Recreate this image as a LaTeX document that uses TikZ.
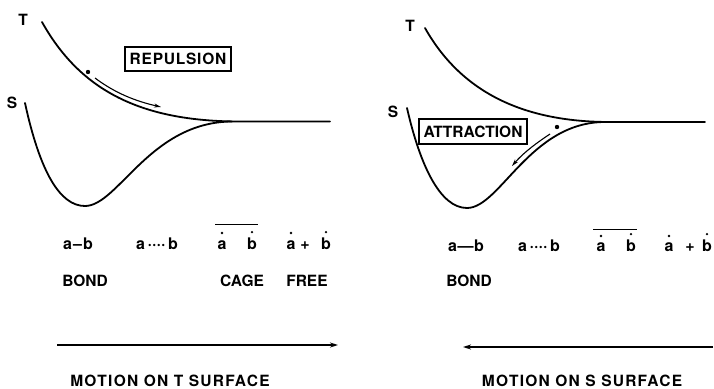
\documentclass[tikz,border=0pt]{standalone}
\usepackage{fontspec}
\setmainfont{TeX Gyre Heros}
\usetikzlibrary{arrows.meta,calc}
\begin{document}
\begin{tikzpicture}[x=1pt,y=-1pt,
  curve/.style={line width=1.8pt,line cap=round},
  motion/.style={line width=1.4pt,-{Stealth[length=8pt,width=5pt]}},
  small arrow/.style={line width=1.1pt,-{Stealth[length=7pt,width=4pt]}},
  lbl/.style={inner sep=0pt,anchor=base,font=\fontsize{15.5}{16}\selectfont\bfseries},
  sm/.style={inner sep=0pt,anchor=base,font=\fontsize{16}{16}\selectfont\bfseries},
  boxed/.style={draw,line width=1.3pt,inner sep=0pt,font=\fontsize{15.5}{16}\selectfont\bfseries},
  bar/.style={line width=1.2pt},
  caption/.style={inner sep=0pt,anchor=base,font=\fontsize{15.5}{16}\selectfont\bfseries\addfontfeature{LetterSpace=8}}]
\useasboundingbox (0,0) rectangle (714,388);

% ---------- left panel ----------
\node[lbl] (T1) at (23,25) {T};
\node[lbl] (S1) at (12,108) {S};
\draw[curve] (42,22) .. controls (80,90) and (140,121.5) .. (240,121.5) -- (330,121.5);
\draw[curve] (25,103) .. controls (40,172) and (60,206) .. (85,206)
                      .. controls (118,206) and (150,122) .. (232,121.5);
\fill (88,72) circle (2.2pt);
\coordinate (r1) at (95,78);
\coordinate (r2) at (161,107);
\draw[small arrow] (r1) .. controls (115,93) and (135,101) .. (r2);
\node[boxed,minimum width=106pt,minimum height=24pt,font=\fontsize{15.5}{16}\selectfont\bfseries\addfontfeature{LetterSpace=5}] (rep) at (178,59) {REPULSION};

\node[sm] (ab1) at (78,249) {a\kern1pt–\kern1pt b};
\node[sm] (adb1) at (157,249) {a\,····\,b};
\node[sm] (ca1) at (222,249) {a};
\node[sm] (cb1) at (252,249) {b};
\fill ([yshift=7pt]ca1.north) circle (1.3pt);
\fill ([yshift=5pt]cb1.north) circle (1.3pt);
\draw[bar] ($(ca1.west |- cb1.north)+(-2,-12.5)$) -- ($(cb1.north east)+(1,-12.5)$);
\node[sm] (fa1) at (291,249) {a};
\node[sm] (fp1) at (305,249) {+};
\node[sm] (fb1) at (326,249) {b};
\fill ([yshift=7pt]fa1.north) circle (1.3pt);
\fill ([yshift=5pt]fb1.north) circle (1.3pt);
\node[lbl] (bond1) at (85,286) {BOND};
\node[lbl] (cage1) at (242,286) {CAGE};
\node[lbl] (free1) at (307,286) {FREE};
\coordinate (m1a) at (57,345);
\coordinate (m1b) at (338,345);
\draw[motion] (m1a) -- (m1b);
\node[caption] (cap1) at (170,386) {MOTION ON T SURFACE};

% ---------- right panel ----------
\node[lbl] (T2) at (410,31) {T};
\node[lbl] (S2) at (393,117) {S};
\draw[curve] (425,28) .. controls (460,90) and (520,122) .. (610,122) -- (705,122);
\draw[curve] (407,108) .. controls (420,165) and (440,208) .. (467,208)
                       .. controls (500,208) and (530,122) .. (605,122);
\fill (557,127) circle (2.2pt);
\coordinate (a1) at (550,134);
\coordinate (a2) at (512,166);
\draw[small arrow] (a1) .. controls (538,142) and (524,152) .. (a2);
\node[boxed,minimum width=108pt,minimum height=25pt] (att) at (473,131.5) {ATTRACTION};

\node[sm] (ab2) at (466,251) {a\kern0.5pt—\kern0.5pt b};
\node[sm] (adb2) at (539,251) {a\,····\,b};
\node[sm] (ca2) at (601,251) {a};
\node[sm] (cb2) at (631,251) {b};
\fill ([yshift=6pt]ca2.north) circle (1.3pt);
\fill ([yshift=5pt]cb2.north) circle (1.3pt);
\draw[bar] ($(ca2.west |- cb2.north)+(-3,-10)$) -- ($(cb2.north east)+(1,-10)$);
\node[sm] (fa2) at (669,251) {a};
\node[sm] (fp2) at (690,251) {+};
\node[sm] (fb2) at (707,251) {b};
\fill ([yshift=6pt]fa2.north) circle (1.3pt);
\fill ([yshift=5pt]fb2.north) circle (1.3pt);
\node[lbl] (bond2) at (469,286) {BOND};
\coordinate (m2a) at (713,347);
\coordinate (m2b) at (463,347);
\draw[motion] (m2a) -- (m2b);
\node[caption] (cap2) at (582,386) {MOTION ON S SURFACE};
\end{tikzpicture}
\end{document}
